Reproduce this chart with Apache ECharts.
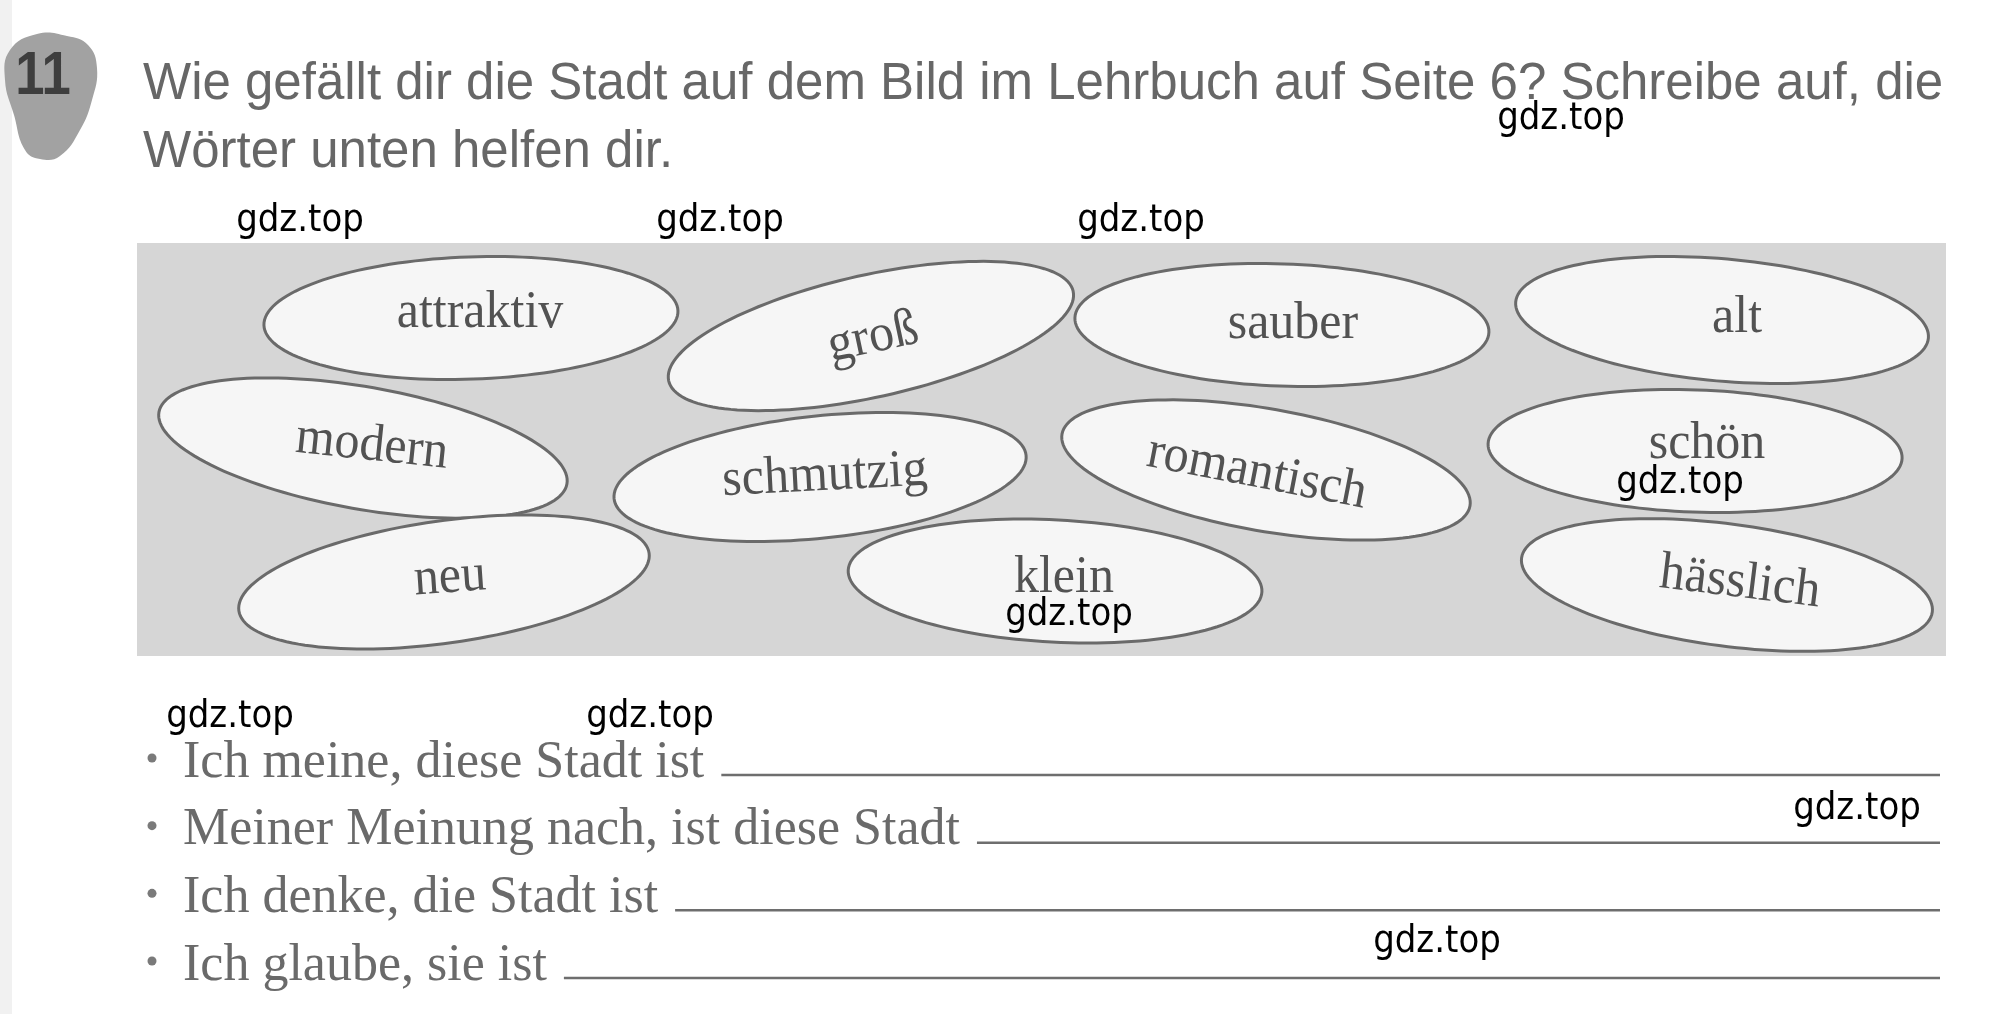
<!DOCTYPE html>
<html><head><meta charset="utf-8">
<script src="https://cdn.jsdelivr.net/npm/echarts@6/dist/echarts.min.js"></script>
<style>html,body{margin:0;padding:0;background:#fff;}#c{width:2005px;height:1014px;}</style>
</head><body><div id="c"></div>
<script>
// ---- content / data ----
const exerciseNo = '11';
const titleLines = [
  'Wie gefällt dir die Stadt auf dem Bild im Lehrbuch auf Seite 6? Schreibe auf, die',
  'Wörter unten helfen dir.'
];
const words = ['attraktiv','groß','sauber','alt','modern','schmutzig','romantisch','schön','neu','klein','hässlich'];
// oval centres on the word board (board units 0..100)
const wordX  = [18.46, 40.57, 63.29, 87.62, 12.49, 37.76, 62.41, 86.13, 16.97, 50.75, 87.89];
const wordY  = [18.16, 22.52, 19.85, 18.64, 49.64, 56.66, 54.96, 50.36, 82.08, 81.84, 82.81];
// word label centres (board units)
const labelX = [18.96, 40.69, 63.90, 88.45, 12.99, 38.03, 61.91, 86.79, 17.30, 51.24, 88.61];
const labelY = [16.95, 23.00, 19.61, 18.16, 49.15, 56.42, 55.69, 48.67, 81.11, 81.11, 82.32];
// tilt in degrees (clockwise positive)
const ovalTilt  = [-2, -12.5, 2, 5, 10, -6, 10, 2, -8, 3, 7.5];
const labelTilt = [0, -12, 0, 0, 6, -3, 11, 0, -4, 0, 7];
const sentences = [
  'Ich meine, diese Stadt ist',
  'Meiner Meinung nach, ist diese Stadt',
  'Ich denke, die Stadt ist',
  'Ich glaube, sie ist'
];
const watermark = 'gdz.top';
const watermarkSpots = [[1561,119],[300,221],[720,221],[1141,221],[1680,483],[1069,615],[230,717],[650,717],[1857,809],[1437,942]];

// ---- chart ----
const chart = echarts.init(document.getElementById('c'), null, {renderer:'canvas'});
const measureCtx = document.createElement('canvas').getContext('2d');
const SERIF_SENT = '52px "Liberation Serif", "Times New Roman", serif';
measureCtx.font = SERIF_SENT;

const ovalData = words.map((w,i)=>[wordX[i], wordY[i], labelX[i], labelY[i]]);
const sentData = sentences.map((s,i)=>[0, i]);

function renderOval(params, api){
  const i = params.dataIndex;
  const c = api.coord([api.value(0), api.value(1)]);
  const l = api.coord([api.value(2), api.value(3)]);
  const a = api.size([11.45, 0])[0];
  const b = api.size([0, 14.8])[1];
  const t = ovalTilt[i]*Math.PI/180;
  const pts = [];
  for(let k=0;k<144;k++){
    const f = k/144*Math.PI*2;
    const ex = a*Math.cos(f), ey = b*Math.sin(f);
    pts.push([c[0] + ex*Math.cos(t) - ey*Math.sin(t), c[1] + ex*Math.sin(t) + ey*Math.cos(t)]);
  }
  return {type:'group', children:[
    {type:'polygon', shape:{points:pts}, style:{fill:'#f6f6f6', stroke:'#6a6a6a', lineWidth:3}},
    {type:'text', x:l[0], y:l[1], rotation:-labelTilt[i]*Math.PI/180, scaleY:1.06,
      style:{text:words[i], font:'50px "Liberation Serif", "Times New Roman", serif', fill:'#525252', align:'center', verticalAlign:'middle'}}
  ]};
}

function renderSentence(params, api){
  const i = params.dataIndex;
  const p0 = api.coord([api.value(0), api.value(1)]);
  const p1 = api.coord([1, api.value(1)]);
  const txt = sentences[i];
  const w = measureCtx.measureText(txt).width;
  return {type:'group', children:[
    {type:'circle', shape:{cx:p0[0]-31, cy:p0[1]-17, r:4.5}, style:{fill:'#7a7a7a'}},
    {type:'text', x:p0[0], y:p0[1]-12, style:{text:txt, font:SERIF_SENT, fill:'#6a6a6a', align:'left', verticalAlign:'middle'}},
    {type:'line', shape:{x1:p0[0]+w+17, y1:p0[1], x2:p1[0], y2:p1[1]}, style:{stroke:'#6e6e6e', lineWidth:2.5}}
  ]};
}

const graphics = [
  {type:'rect', left:0, top:0, shape:{width:12, height:1014}, style:{fill:'#f1f1f1'}, z:0},
  {type:'polygon', z:5, shape:{smooth:0.45, points:[[37,34],[67,36],[88,45],[97,68],[92,100],[80,130],[60,156],[40,159],[25,150],[14,115],[5,80],[10,50]]}, style:{fill:'#a2a2a2'}},
  {type:'text', z:6, x:43, y:77, scaleX:0.85, style:{text:exerciseNo, font:'bold 62px "Liberation Sans", Arial, sans-serif', fill:'#3e3e3e', align:'center', verticalAlign:'middle'}},
  {type:'text', z:6, x:143, y:85, style:{text:titleLines[0], font:'51px "Liberation Sans", Arial, sans-serif', fill:'#676767', align:'left', verticalAlign:'middle'}},
  {type:'text', z:6, x:143, y:153, style:{text:titleLines[1], font:'51px "Liberation Sans", Arial, sans-serif', fill:'#676767', align:'left', verticalAlign:'middle'}}
];
watermarkSpots.forEach(p=>{
  graphics.push({type:'text', z:100, x:p[0], y:p[1], scaleX:0.92, style:{text:watermark, font:'37px "DejaVu Sans", sans-serif', fill:'#000', align:'center', verticalAlign:'middle'}});
});

chart.setOption({
  animation:false,
  backgroundColor:'#ffffff',
  grid:[
    {left:137, top:243, width:1809, height:413, show:true, backgroundColor:'#d6d6d6', borderWidth:0},
    {left:183, top:775, width:1757, height:203, show:false}
  ],
  xAxis:[
    {type:'value', gridIndex:0, min:0, max:100, show:false},
    {type:'value', gridIndex:1, min:0, max:1, show:false}
  ],
  yAxis:[
    {type:'value', gridIndex:0, min:0, max:100, inverse:true, show:false},
    {type:'value', gridIndex:1, min:0, max:3, inverse:true, show:false}
  ],
  series:[
    {type:'custom', xAxisIndex:0, yAxisIndex:0, data:ovalData, renderItem:renderOval, clip:false, silent:true},
    {type:'custom', xAxisIndex:1, yAxisIndex:1, data:sentData, renderItem:renderSentence, clip:false, silent:true}
  ],
  graphic:graphics
});
</script></body></html>
